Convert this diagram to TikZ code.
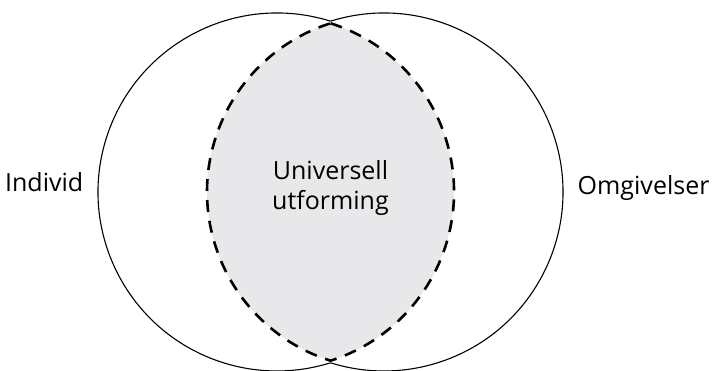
\documentclass[tikz,border=0pt]{standalone}
\usepackage{fontspec}
\setmainfont{Open Sans}
\usetikzlibrary{positioning, calc}
\definecolor{lensgray}{RGB}{232,232,235}

\begin{document}
\begin{tikzpicture}[x=1pt, y=1pt, node distance=11pt,
    ring/.style={circle, minimum size=358pt, inner sep=0pt},
    tag/.style={font=\fontsize{25}{30}\selectfont}]
  \useasboundingbox (0,0) rectangle (712,371);
  \node (indc) [ring] at (277,179) {};
  \node (omgc) [ring] at (384,179) {};
  % shared part, bounded by the dashed arcs
  \draw[fill=lensgray, line width=2.6pt, dash pattern=on 12pt off 9pt]
    (indc.center) ++(72.4:177) arc[start angle=72.4, end angle=-72.4, radius=177]
    arc[start angle=252.4, end angle=107.6, radius=177] -- cycle;
  % outer arcs only
  \draw[line width=1.1pt] (indc.center) ++(72.6:179) arc[start angle=72.6, end angle=287.4, radius=179];
  \draw[line width=1.1pt] (omgc.center) ++(107.4:179) arc[start angle=107.4, end angle=-107.4, radius=179];
  \node (uni) [tag, align=center] at ($(indc.center)!0.5!(omgc.center)+(0,4)$) {Universell\\utforming};
  \node (ind) [tag, left=of indc, anchor=base east] {Individ};
  \node (omg) [tag, right=of omgc, anchor=base west, yshift=-3pt] {Omgivelser};
\end{tikzpicture}
\end{document}
